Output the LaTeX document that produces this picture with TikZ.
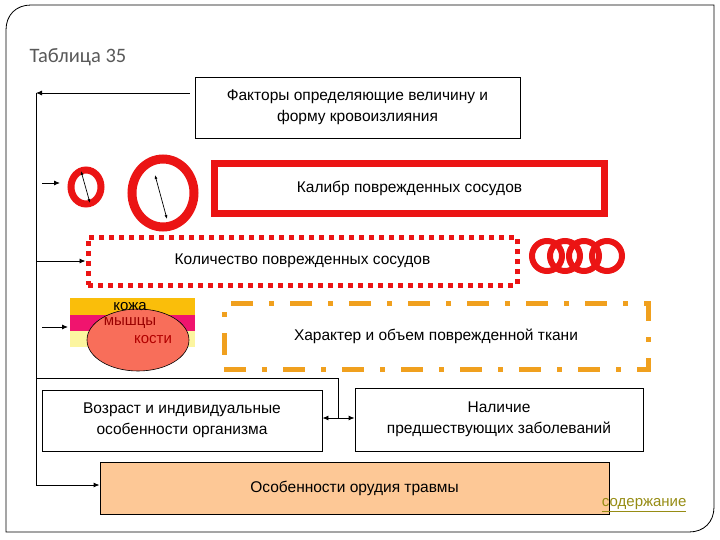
\documentclass[tikz,border=0pt]{standalone}
\usepackage{fontspec}
\setmainfont{Liberation Sans}
\newfontfamily\calib{Carlito}
\usetikzlibrary{arrows.meta}
\definecolor{rred}{RGB}{235,20,20}
\definecolor{oor}{RGB}{240,160,30}
\definecolor{peach}{RGB}{253,200,150}
\definecolor{skinc}{RGB}{250,190,10}
\definecolor{musc}{RGB}{240,20,110}
\definecolor{bonec}{RGB}{252,245,160}
\definecolor{salm}{RGB}{248,110,90}
\definecolor{olive}{RGB}{150,140,20}
\begin{document}
\begin{tikzpicture}[x=1pt,y=-1pt,
  box/.style={draw,line width=0.9pt,align=center,font=\fontsize{15.5}{21}\selectfont,inner sep=0pt},
  conn/.style={line width=0.9pt},
  arr/.style={line width=0.9pt,-{Latex[length=6pt,width=5pt]}},
  ring/.style={draw=rred,line width=6pt}]
\useasboundingbox (0,0) rectangle (720,540);
% frame
\draw[line width=0.8pt] (6,30) .. controls (6,15) and (16,5) .. (31,5) -- (714,5) -- (714,507) .. controls (714,522) and (704,532) .. (689,532) -- (6,532) -- cycle;
\node[anchor=west,text=black!65,font=\calib\fontsize{20.5}{24}\selectfont] (title) at (26,57) {Таблица 35};
% boxes
\node[box,minimum width=325,minimum height=61] (b1) at (357.5,107.5) {Факторы определяющие величину и\\форму кровоизлияния};
\node[box,draw=rred,line width=7pt,minimum width=390,minimum height=50] (b2) at (409.5,188.5) {Калибр поврежденных сосудов};
\node[box,draw=rred,line width=5pt,dash pattern=on 5pt off 5pt,minimum width=429,minimum height=48] (b3) at (302.5,261) {Количество поврежденных сосудов};
\node[box,draw=oor,line width=5pt,dash pattern=on 22pt off 16pt on 5pt off 16pt,minimum width=424,minimum height=66] (b4) at (436,336) {Характер и объем поврежденной ткани};
\node[box,minimum width=280,minimum height=61] (b5) at (182,420.5) {Возраст и индивидуальные\\особенности организма};
\node[box,minimum width=288,minimum height=63] (b6) at (499,419.5) {Наличие\\предшествующих заболеваний};
\node[box,fill=peach,minimum width=509,minimum height=52] (b7) at (354.5,488) {Особенности орудия травмы};
% vessels
\draw[ring,line width=7pt] (86,187) ellipse[x radius=15,y radius=17];
\draw[ring,line width=9pt] (163,193) ellipse[x radius=31,y radius=34];
\coordinate (s1) at (81,171); \coordinate (s2) at (90,203);
\draw[line width=0.7pt,{Latex[length=4pt]}-{Latex[length=4pt]}] (s1) -- (s2);
\coordinate (g1) at (155,175); \coordinate (g2) at (167,219);
\draw[line width=0.7pt,{Latex[length=4pt]}-{Latex[length=4pt]}] (g1) -- (g2);
\foreach \cx in {547,565,584,607} \draw[ring] (\cx,256) circle[radius=15];
% tissue
\fill[skinc] (70,298) rectangle (195,315);
\fill[musc] (70,315) rectangle (195,331);
\fill[bonec] (70,331) rectangle (195,347);
\draw[fill=salm,line width=0.6pt] (138,340) ellipse[x radius=51,y radius=31];
\node[font=\fontsize{15}{17}\selectfont] (skin) at (130,307) {кожа};
\node[font=\fontsize{15}{17}\selectfont,text=red!60!black] (musl) at (130,323) {мышцы};
\node[font=\fontsize{15}{17}\selectfont,text=red!70!black] (bone) at (153,340) {кости};
% connectors
\coordinate (lt) at (36,93);
\coordinate (lb) at (36,485);
\draw[arr] (b1.west |- lt) ++(-5,0) -- (lt);
\draw[conn] (lt) -- (lb);
\coordinate (a1s) at (42,183); \coordinate (a1e) at (60,183);
\draw[arr] (a1s) -- (a1e);
\coordinate (a2s) at (36,261);
\draw[arr] (a2s) -- (b3.west);
\coordinate (a3s) at (42,327); \coordinate (a3e) at (68,327);
\draw[arr] (a3s) -- (a3e);
\coordinate (h1) at (36,378); \coordinate (h2) at (338,378); \coordinate (h3) at (338,418);
\draw[conn] (h1) -- (h2) -- (h3);
\draw[line width=0.9pt,{Latex[length=6pt,width=5pt]}-{Latex[length=6pt,width=5pt]}] (b5.east |- h3) -- (b6.west |- h3);
\draw[arr] (lb) -- (b7.west |- lb);
\node[anchor=east,text=olive,font=\fontsize{15}{17}\selectfont] (cont) at (690,505) {\underline{содержание}};
\end{tikzpicture}
\end{document}
